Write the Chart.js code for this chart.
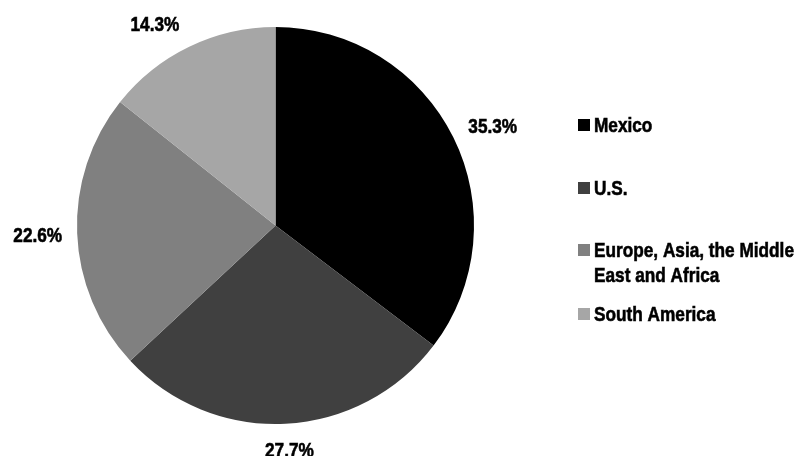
<!DOCTYPE html>
<html>
<head>
<meta charset="utf-8">
<script src="https://cdn.jsdelivr.net/npm/chart.js@4"></script>
<style>
  html, body { margin: 0; padding: 0; background: #fff; }
  #wrap { width: 797px; height: 456px; }
</style>
</head>
<body>
<div id="wrap"><canvas id="myChart" width="797" height="456"></canvas></div>
<script>
const regions = ['Mexico', 'U.S.', 'Europe, Asia, the Middle East and Africa', 'South America'];
const legendLines = [['Mexico'], ['U.S.'], ['Europe, Asia, the Middle', 'East and Africa'], ['South America']];
const shares = [35.3, 27.7, 22.6, 14.3];
const sliceColors = ['#000000', '#404040', '#808080', '#a6a6a6'];

const labelFont = "bold 21px 'Liberation Sans', Arial, sans-serif";
const narrow = 0.82; // squeeze Arial-style glyphs into a narrow face

function narrowText(ctx, txt, x, y) {
    ctx.save();
    ctx.translate(x, y + 1.5);
    ctx.scale(narrow, 1);
    ctx.fillStyle = '#000';
    ctx.strokeStyle = '#000';
    ctx.lineWidth = 0.6;
    ctx.fillText(txt, 0, 0);
    ctx.strokeText(txt, 0, 0);
    ctx.restore();
}

// percent labels sitting just outside each slice
const outsideLabels = {
    id: 'outsideLabels',
    afterDatasetsDraw(chart) {
        const ctx = chart.ctx;
        const meta = chart.getDatasetMeta(0);
        ctx.save();
        ctx.font = labelFont;
        ctx.textAlign = 'center';
        ctx.textBaseline = 'middle';
        meta.data.forEach((arc, i) => {
            const p = arc.getProps(['x', 'y', 'startAngle', 'endAngle', 'outerRadius'], true);
            const mid = (p.startAngle + p.endAngle) / 2;
            const txt = shares[i].toFixed(1) + '%';
            const w = ctx.measureText(txt).width * narrow;
            const c = Math.cos(mid), s = Math.sin(mid);
            // push sideways by half the text width, fading out near the vertical
            const sx = Math.sign(c) * Math.min(1, Math.abs(c) / 0.5) * (w / 2 + 15);
            const x = p.x + c * p.outerRadius + sx;
            const y = p.y + s * (p.outerRadius + 26);
            narrowText(ctx, txt, x, y);
        });
        ctx.restore();
    }
};

// legend on the right, with wrapped names
const sideLegend = {
    id: 'sideLegend',
    afterDraw(chart) {
        const ctx = chart.ctx;
        const rows = [125, 188, 250, 314];
        ctx.save();
        ctx.font = labelFont;
        ctx.textAlign = 'left';
        ctx.textBaseline = 'middle';
        legendLines.forEach((lines, i) => {
            ctx.fillStyle = sliceColors[i];
            ctx.fillRect(578, rows[i] - 6, 12, 12);
            lines.forEach((line, j) => {
                narrowText(ctx, line, 594, rows[i] + j * 25);
            });
        });
        ctx.restore();
    }
};

const data = {
    labels: regions,
    datasets: [{
        data: shares,
        backgroundColor: sliceColors,
        borderWidth: 0
    }]
};

const config = {
    type: 'pie',
    data: data,
    options: {
        responsive: false,
        animation: false,
        layout: {
            padding: { left: 77, right: 323, top: 27, bottom: 32 }
        },
        plugins: {
            legend: { display: false },
            tooltip: { enabled: false }
        }
    },
    plugins: [outsideLabels, sideLegend]
};

const myChart = new Chart(document.getElementById('myChart'), config);
</script>
</body>
</html>
